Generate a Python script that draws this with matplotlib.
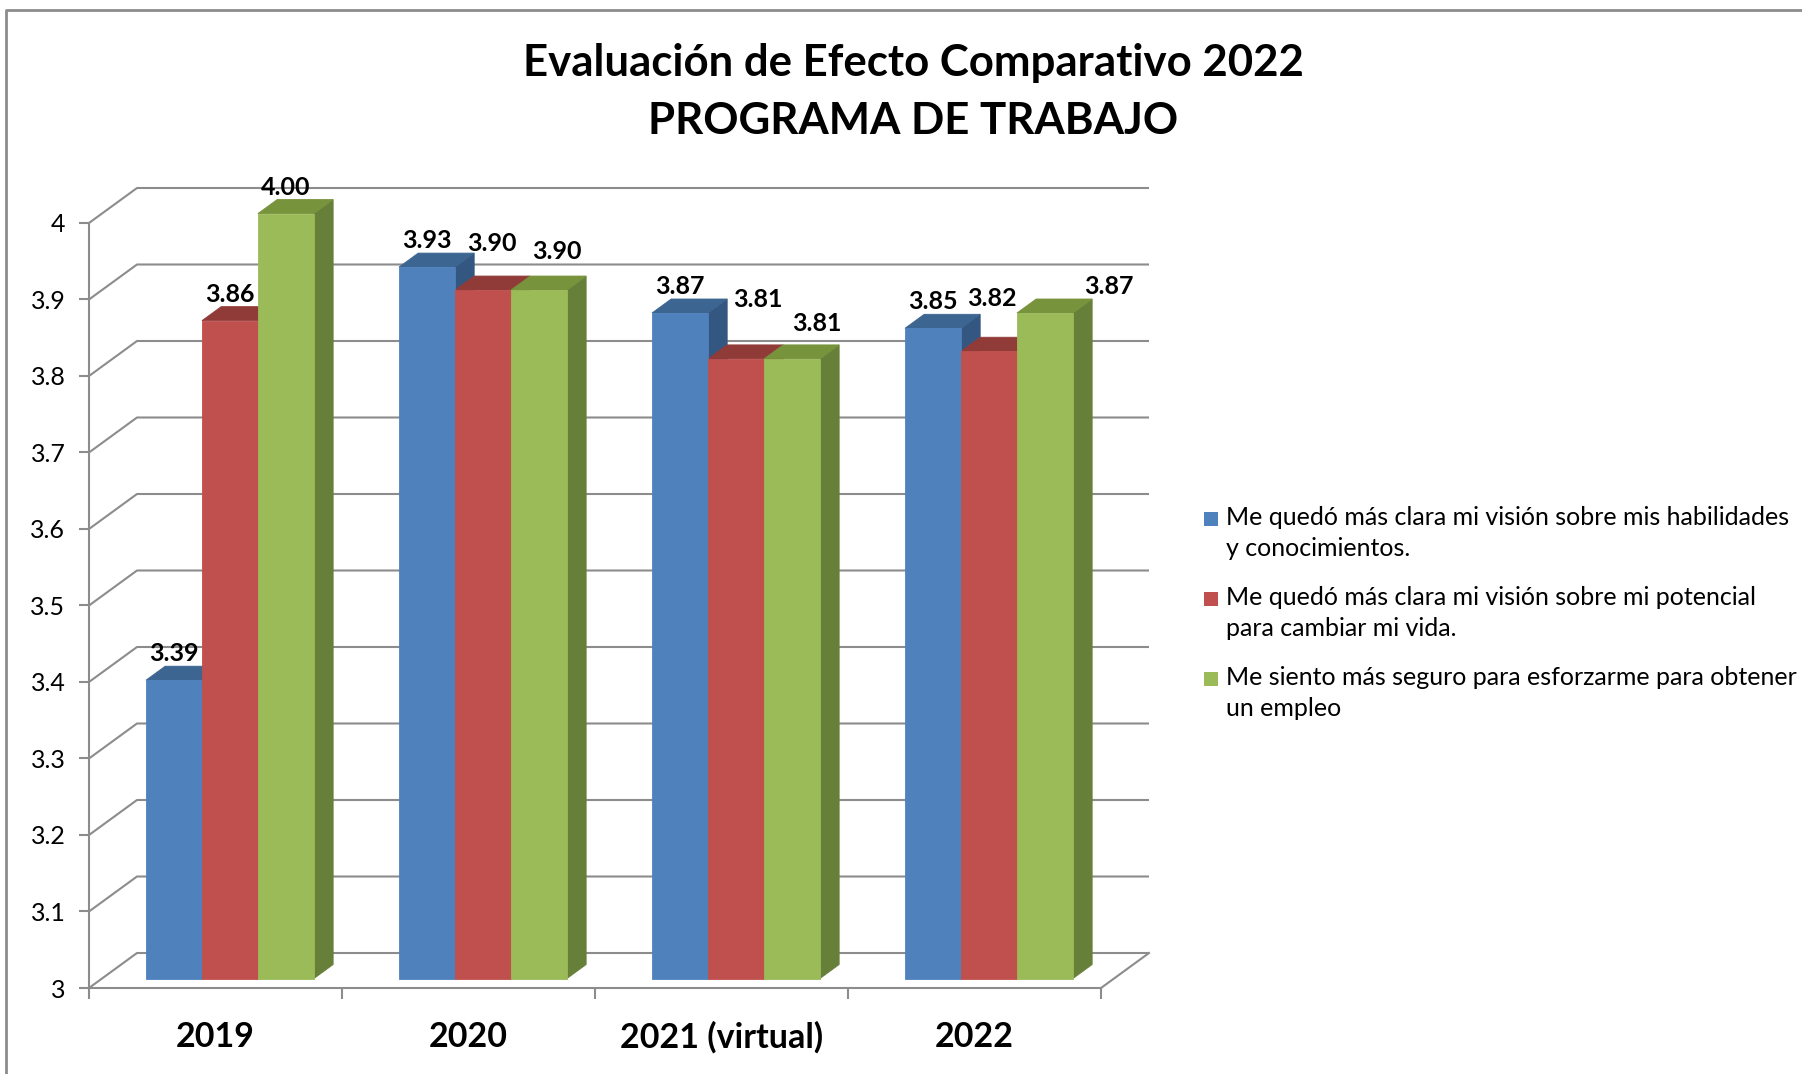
import matplotlib.pyplot as plt
from matplotlib.patches import Polygon, Rectangle
import numpy as np

plt.rcParams['font.family'] = ['Lato', 'DejaVu Sans']

categories = ['2019', '2020', '2021 (virtual)', '2022']
series_names = [
    'Me quedó más clara mi visión sobre mis habilidades\ny conocimientos.',
    'Me quedó más clara mi visión sobre mi potencial\npara cambiar mi vida.',
    'Me siento más seguro para esforzarme para obtener\nun empleo',
]
values = [
    [3.39, 3.93, 3.87, 3.85],
    [3.86, 3.90, 3.81, 3.82],
    [4.00, 3.90, 3.81, 3.87],
]
yticks = [3, 3.1, 3.2, 3.3, 3.4, 3.5, 3.6, 3.7, 3.8, 3.9, 4]

# colours: front, top, side
front_c = ['#4f81bd', '#c0504d', '#9bbb59']
top_c = ['#3d6592', '#913b39', '#77933c']
side_c = ['#335780', '#913b39', '#66803a']

# label nudges (pixels) where Excel moved labels away from each other
lab_dx = [[0, 0, 0, 0], [0, 9, 22, 3], [0, 18, 25, 64]]
lab_dy = [[0, 0, 0, 0], [0, 20, 33, 26], [0, 12, 9, 0]]

W, H = 1802, 1074
fig = plt.figure(figsize=(W / 100, H / 100), dpi=100)

# 3d look: depth vector in data units
ddx, ddy = 0.1897, 0.04575
ymin, ymax = 3.0, 4.0
ax = fig.add_axes([89 / W, 86 / H, 1060 / W, 800 / H])
ax.set_xlim(0, 4 + ddx)
ax.set_ylim(ymin, ymax + ddy)
ax.patch.set_visible(False)

grid_c = '#8c8c8c'
# walls / gridlines
for v in yticks:
    ax.plot([0, ddx, 4 + ddx], [v, v + ddy, v + ddy], color=grid_c, lw=1.5, zorder=1,
            clip_on=False, solid_capstyle='butt')
ax.plot([4, 4 + ddx], [ymin, ymin + ddy], color=grid_c, lw=1.5, zorder=1, clip_on=False)

for s in ['top', 'right']:
    ax.spines[s].set_visible(False)
for s in ['left', 'bottom']:
    ax.spines[s].set_color(grid_c)
    ax.spines[s].set_linewidth(1.5)
ax.spines['left'].set_bounds(ymin, ymax)
ax.spines['bottom'].set_bounds(0, 4)

ax.set_yticks(yticks)
ax.set_yticklabels([f'{t:g}' for t in yticks], fontsize=18)
ax.tick_params(axis='y', length=7, width=1.5, color=grid_c, pad=10)
ax.set_xticks(np.arange(5))
ax.set_xticklabels([])
ax.tick_params(axis='x', which='major', length=8, width=1.5, color=grid_c)
ax.set_xticks(np.arange(4) + 0.5, minor=True)
ax.set_xticklabels(categories, minor=True, fontsize=24.5, fontweight='bold')
ax.tick_params(axis='x', which='minor', length=0, pad=24)

bw = 0.2213
gap = 0.174
f0, f1 = 0.27, 0.67
x = np.arange(len(categories))
for i, vals in enumerate(values):
    x0 = x + gap + i * bw + f0 * ddx
    ax.bar(x0, np.array(vals) - ymin, width=bw, bottom=ymin + f0 * ddy, align='edge',
           color=front_c[i], edgecolor=front_c[i], lw=0.6, zorder=3)
    dz = (f1 - f0)
    for j, v in enumerate(vals):
        xl = x0[j]
        xr = xl + bw
        yt = v + f0 * ddy
        yb = ymin + f0 * ddy
        top = Polygon([(xl, yt), (xr, yt), (xr + dz * ddx, yt + dz * ddy), (xl + dz * ddx, yt + dz * ddy)],
                      closed=True, fc=top_c[i], ec=top_c[i], lw=0.6, zorder=2, clip_on=False)
        side = Polygon([(xr, yb), (xr + dz * ddx, yb + dz * ddy), (xr + dz * ddx, yt + dz * ddy), (xr, yt)],
                       closed=True, fc=side_c[i], ec=side_c[i], lw=0.6, zorder=2, clip_on=False)
        ax.add_patch(side)
        ax.add_patch(top)
        ax.annotate(f'{v:.2f}', xy=(xl + bw / 2, v + f1 * ddy),
                    xytext=(lab_dx[i][j], 5 + lab_dy[i][j]), textcoords='offset pixels',
                    ha='center', va='baseline', fontsize=18, fontweight='bold',
                    zorder=5, annotation_clip=False)

# title
fig.text(913 / W, 1 - 63 / H, 'Evaluación de Efecto Comparativo 2022', ha='center', va='center',
         fontsize=31.5, fontweight='bold')
fig.text(913 / W, 1 - 121 / H, 'PROGRAMA DE TRABAJO', ha='center', va='center',
         fontsize=31.5, fontweight='bold')

# legend
leg_y = [519, 599, 679]
for i, name in enumerate(series_names):
    fig.patches.append(Rectangle(((1211 - 7) / W, 1 - (leg_y[i] + 7) / H), 14 / W, 14 / H,
                                 transform=fig.transFigure, fc=front_c[i], ec='none'))
    fig.text(1226 / W, 1 - (leg_y[i] - 13) / H, name, ha='left', va='top', fontsize=18,
             linespacing=1.4)

# outer frame
fig.add_artist(plt.Line2D([6 / W, 6 / W, 1], [0, 1 - 10 / H, 1 - 10 / H], transform=fig.transFigure,
                          color='#8c8c8c', lw=2))

fig.savefig('out.png', dpi=100, facecolor='white')
